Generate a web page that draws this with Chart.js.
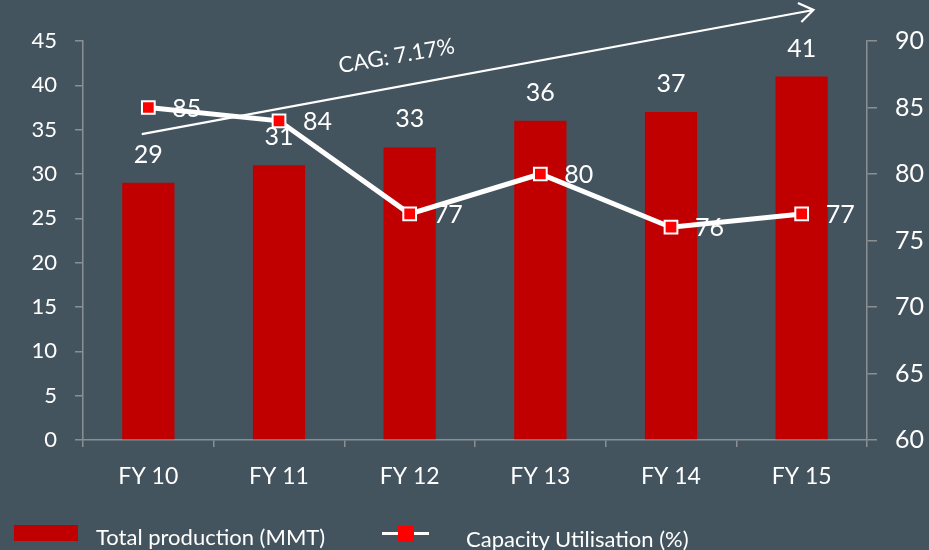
<!DOCTYPE html>
<html>
<head>
<meta charset="utf-8">
<script src="https://cdn.jsdelivr.net/npm/chart.js@4.4.1/dist/chart.umd.min.js"></script>
<style>
  body { margin: 0; background: #44545f; }
  .wrap { position: relative; width: 929px; height: 550px; }
  .lg { position: absolute; font-family: Lato, sans-serif; font-size: 22px; color: #fff; line-height: 26px; white-space: nowrap; }
</style>
</head>
<body>
<div class="wrap">
  <canvas id="myChart" width="929" height="550"></canvas>
  <div class="lg" style="left:14px;top:525px;width:64px;height:16px;background:#c00000"></div>
  <div class="lg" id="name0" style="left:96px;top:524px"></div>
  <div class="lg" style="left:382px;top:532px;width:47px;height:3px;background:#fff"></div>
  <div class="lg" style="left:398px;top:526px;width:16px;height:16px;background:#ff0000"></div>
  <div class="lg" id="name1" style="left:466px;top:526px"></div>
</div>
<script>
const years = ['FY 10', 'FY 11', 'FY 12', 'FY 13', 'FY 14', 'FY 15'];
const production = [29, 31, 33, 36, 37, 41];
const utilisation = [85, 84, 77, 80, 76, 77];
const seriesNames = ['Total production (MMT)', 'Capacity Utilisation (%)'];
const leftTicks = [0, 5, 10, 15, 20, 25, 30, 35, 40, 45];
const rightTicks = [60, 65, 70, 75, 80, 85, 90];
// growth arrow, in [category index, left axis value]
const cagText = 'CAG: 7.17%';
const cagFrom = [-0.05, 34.5];
const cagTo = [5.09, 48.5];
const cagLabelAt = [1.9, 43.3];

document.getElementById('name0').textContent = seriesNames[0];
document.getElementById('name1').textContent = seriesNames[1];

Chart.defaults.font.family = 'Lato';
Chart.defaults.color = '#ffffff';

const axisGray = '#8a8f94';

const cagArrow = {
  id: 'cagArrow',
  beforeDatasetsDraw(chart) {
    const ctx = chart.ctx;
    const x = chart.scales.x, y = chart.scales.y;
    const x1 = x.getPixelForValue(cagFrom[0]), y1 = y.getPixelForValue(cagFrom[1]);
    const x2 = x.getPixelForValue(cagTo[0]), y2 = y.getPixelForValue(cagTo[1]);
    const ang = Math.atan2(y2 - y1, x2 - x1);
    ctx.save();
    ctx.strokeStyle = '#ffffff';
    ctx.lineWidth = 2.2;
    ctx.beginPath();
    ctx.moveTo(x1, y1);
    ctx.lineTo(x2, y2);
    ctx.moveTo(x2 - 17 * Math.cos(ang - 0.6), y2 - 17 * Math.sin(ang - 0.6));
    ctx.lineTo(x2, y2);
    ctx.lineTo(x2 - 17 * Math.cos(ang + 0.6), y2 - 17 * Math.sin(ang + 0.6));
    ctx.stroke();
    ctx.translate(x.getPixelForValue(cagLabelAt[0]), y.getPixelForValue(cagLabelAt[1]));
    ctx.rotate(-10 * Math.PI / 180);
    ctx.fillStyle = '#ffffff';
    ctx.font = '22px Lato';
    ctx.textAlign = 'center';
    ctx.textBaseline = 'middle';
    ctx.fillText(cagText, 0, 0);
    ctx.restore();
  }
};

const valueLabels = {
  id: 'valueLabels',
  afterDatasetsDraw(chart) {
    const ctx = chart.ctx;
    ctx.save();
    ctx.fillStyle = '#ffffff';
    ctx.font = '25px Lato';
    ctx.textBaseline = 'middle';
    chart.getDatasetMeta(0).data.forEach((bar, i) => {
      ctx.textAlign = 'center';
      ctx.fillText(production[i], bar.x, bar.y - 28);
    });
    chart.getDatasetMeta(1).data.forEach((pt, i) => {
      ctx.textAlign = 'left';
      ctx.fillText(utilisation[i], pt.x + 24, pt.y + 1);
    });
    ctx.restore();
  }
};

const ctx = document.getElementById('myChart');
const myChart = new Chart(ctx, {
  type: 'bar',
  data: {
    labels: years,
    datasets: [{
      type: 'bar',
      label: seriesNames[0],
      data: production,
      backgroundColor: '#c00000',
      barPercentage: 0.4,
      categoryPercentage: 1,
      yAxisID: 'y',
      order: 2
    }, {
      type: 'line',
      label: seriesNames[1],
      data: utilisation,
      borderColor: '#ffffff',
      borderWidth: 5,
      pointStyle: 'rect',
      pointRadius: 9,
      pointBackgroundColor: '#ff0000',
      pointBorderColor: '#ffffff',
      pointBorderWidth: 2,
      yAxisID: 'y1',
      order: 1
    }]
  },
  options: {
    responsive: false,
    devicePixelRatio: 1,
    animation: false,
    layout: { padding: { top: 41, left: 0, right: 0, bottom: 0 } },
    plugins: { legend: { display: false }, tooltip: { enabled: false } },
    scales: {
      x: {
        grid: { offset: true, drawOnChartArea: false, color: axisGray, lineWidth: 1.5, tickLength: 7 },
        border: { color: axisGray, width: 1.5 },
        ticks: { font: { size: 23 }, padding: 16 },
        afterFit(s) { s.height = 110; }
      },
      y: {
        position: 'left',
        min: leftTicks[0],
        max: leftTicks[leftTicks.length - 1],
        grid: { drawOnChartArea: false, color: axisGray, lineWidth: 1.5, tickLength: 8 },
        border: { color: axisGray, width: 1.5 },
        ticks: { stepSize: leftTicks[1] - leftTicks[0], font: { size: 22 }, padding: 18 },
        afterFit(s) { s.width = 83; }
      },
      y1: {
        position: 'right',
        min: rightTicks[0],
        max: rightTicks[rightTicks.length - 1],
        grid: { drawOnChartArea: false, color: axisGray, lineWidth: 1.5, tickLength: 10 },
        border: { color: axisGray, width: 1.5 },
        ticks: { stepSize: rightTicks[1] - rightTicks[0], font: { size: 25 }, padding: 18 },
        afterFit(s) { s.width = 62; }
      }
    }
  },
  plugins: [cagArrow, valueLabels]
});
</script>
</body>
</html>
